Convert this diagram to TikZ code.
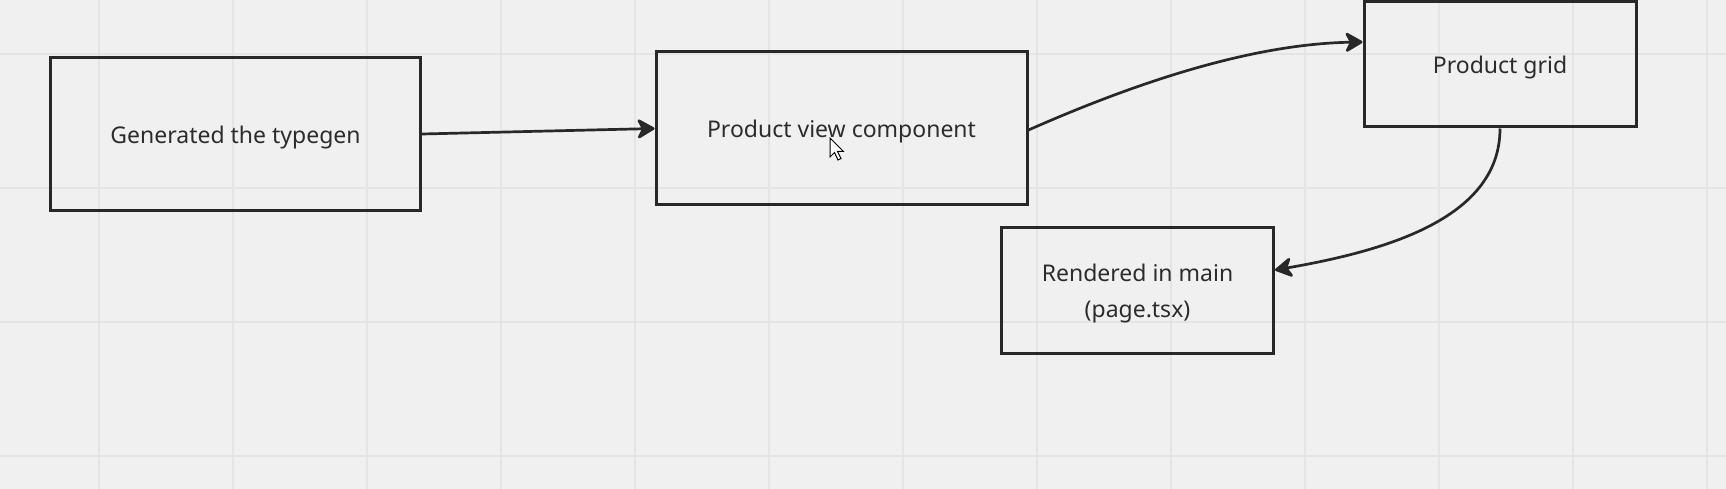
\documentclass[tikz,border=0pt]{standalone}
\usepackage{fontspec}
\setmainfont{Noto Sans}
\usetikzlibrary{arrows.meta,calc}
\definecolor{bg}{HTML}{F0F0F0}
\definecolor{gridc}{HTML}{E4E4E4}
\definecolor{ink}{HTML}{282828}
\definecolor{txt}{HTML}{2C2C2C}
\begin{document}
\begin{tikzpicture}[x=1pt,y=-1pt,
 box/.style={draw=ink, line width=3pt, text=txt, inner sep=0pt, font=\fontsize{23}{36}\selectfont, align=center, text height=18.6pt, text depth=0pt},
 conn/.style={draw=ink, line width=2.7pt, -{Stealth[length=20pt,width=23pt,inset=6pt,round]}},
 gridline/.style={draw=gridc, line width=1.5pt},
]
\fill[bg] (0,0) rectangle (1726,489);
\useasboundingbox (0,0) rectangle (1726,489);
\foreach \gx in {99,233,...,1707} \draw[gridline] (\gx,0) -- (\gx,489);
\foreach \gy in {54,188,322,456} \draw[gridline] (0,\gy) -- (1726,\gy);

\node[box, minimum width=370pt, minimum height=153pt] (gen) at (235.5,134) {Generated the typegen};
\node[box, minimum width=371pt, minimum height=153pt] (pvc) at (841.5,128.5) {Product view component};
\node[box, minimum width=272pt, minimum height=125pt] (grid) at (1500,64.5) {Product grid};
\node[box, minimum width=272pt, minimum height=126pt, text height=54pt, text depth=0pt] (rend) at (1137.5,290.5) {Rendered in main\\(page.tsx)};

\draw[conn] (gen.east) -- (pvc.west);
\draw[conn] ([yshift=-1.5pt]pvc.east) .. controls +(102,-45) and +(-114,2) .. ([yshift=22.5pt]grid.west);
\draw[conn] (grid.south) .. controls +(0,88) and +(116,-20) .. ([yshift=20.5pt]rend.east);

\draw[fill=white, draw=black, line width=1pt, shift={(830,138)}] (0,0) -- (0,19) -- (4.5,14.5) -- (8,22) -- (11,20.5) -- (7.5,13.5) -- (13.5,13.5) -- cycle;
\end{tikzpicture}
\end{document}
